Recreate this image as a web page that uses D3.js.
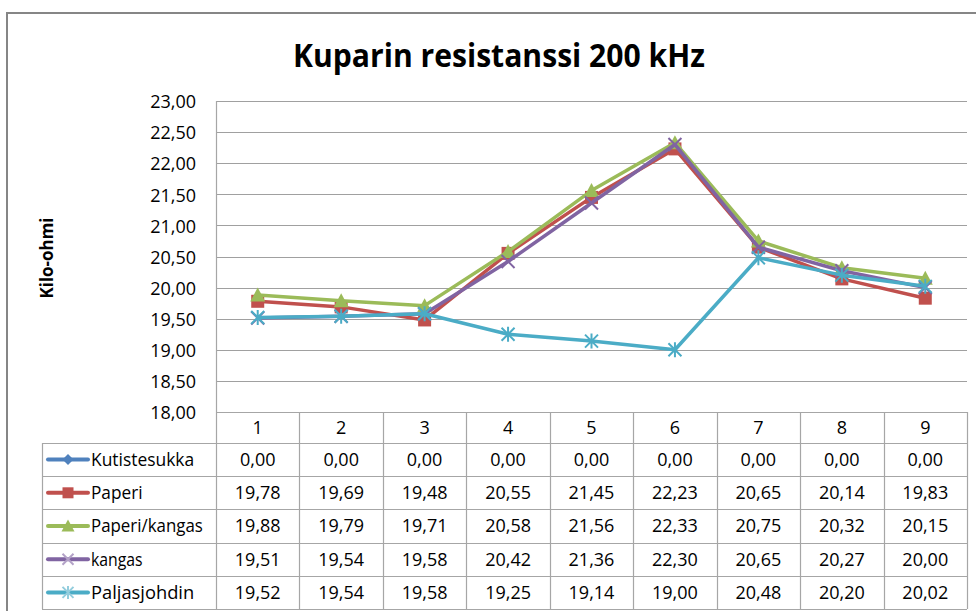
<!DOCTYPE html>
<html>
<head>
<meta charset="utf-8">
<script src="https://cdn.jsdelivr.net/npm/d3@7/dist/d3.min.js"></script>
<style>
  body { margin: 0; background: #fff; }
  svg { display: block; font-family: "Open Sans", sans-serif; }
</style>
</head>
<body>
<div id="viz"></div>
<script>
"use strict";

// --- data ---
var categories = [1, 2, 3, 4, 5, 6, 7, 8, 9];
var seriesNames = ["Kutistesukka", "Paperi", "Paperi/kangas", "kangas", "Paljasjohdin"];
var kutistesukka = [0, 0, 0, 0, 0, 0, 0, 0, 0];
var paperi = [19.78, 19.69, 19.48, 20.55, 21.45, 22.23, 20.65, 20.14, 19.83];
var paperiKangas = [19.88, 19.79, 19.71, 20.58, 21.56, 22.33, 20.75, 20.32, 20.15];
var kangas = [19.51, 19.54, 19.58, 20.42, 21.36, 22.30, 20.65, 20.27, 20.00];
var paljasjohdin = [19.52, 19.54, 19.58, 19.25, 19.14, 19.00, 20.48, 20.20, 20.02];
var yTicks = [18, 18.5, 19, 19.5, 20, 20.5, 21, 21.5, 22, 22.5, 23];

var colors = ["#4F81BD", "#C0504D", "#9BBB59", "#8064A2", "#4BACC6"],
	lightColors = ["#4F81BD", "#C0504D", "#9BBB59", "#B3A2C7", "#93CDDD"],
	markers = ["diamond", "square", "triangle", "x", "star"];

var series = [kutistesukka, paperi, paperiKangas, kangas, paljasjohdin].map(function(values, i) {
	return { name: seriesNames[i], values: values, color: colors[i], light: lightColors[i], marker: markers[i] }
})

var W = 976, H = 611,
	plotLeft = 216, plotRight = 967, plotTop = 101, plotBottom = 412,
	rowH = 33.2, headerH = 31, legendLeft = 42,
	gridColor = "#A0A0A0", tableColor = "#A6A6A6";

var fmt = d3.formatLocale({ decimal: ",", thousands: " ", grouping: [3], currency: ["", ""] }).format(".2f");

var x = d3.scaleBand().domain(categories).range([plotLeft, plotRight]).padding(0);
var y = d3.scaleLinear().domain([18, 23]).range([plotBottom, plotTop]);

var svg = d3.select("#viz").append("svg")
	.attr("width", W)
	.attr("height", H)

// chart border
svg.append("rect")
	.attr("x", 7).attr("y", 13)
	.attr("width", W + 20).attr("height", H + 20)
	.attr("fill", "none")
	.attr("stroke", "#868686")
	.attr("stroke-width", 2)

// title
svg.append("text")
	.attr("x", 499).attr("y", 67)
	.attr("text-anchor", "middle")
	.attr("font-size", "33px")
	.attr("font-weight", "bold")
	.attr("textLength", 412)
	.attr("lengthAdjust", "spacingAndGlyphs")
	.attr("fill", "#000")
	.text("Kuparin resistanssi 200 kHz")

// axis title
svg.append("text")
	.attr("transform", "translate(53,258) rotate(-90)")
	.attr("text-anchor", "middle")
	.attr("font-size", "17px")
	.attr("font-weight", "bold")
	.attr("textLength", 81)
	.attr("lengthAdjust", "spacingAndGlyphs")
	.text("Kilo-ohmi")

// gridlines
svg.append("g")
	.selectAll("line")
	.data(yTicks.slice(1))
	.enter()
	.append("line")
	.attr("x1", plotLeft).attr("x2", plotRight)
	.attr("y1", function(d) { return Math.round(y(d)) + 0.5 })
	.attr("y2", function(d) { return Math.round(y(d)) + 0.5 })
	.attr("stroke", gridColor)
	.attr("stroke-width", 1.2)

// y axis labels
var yAxis = svg.append("g")
	.attr("transform", "translate(" + plotLeft + ",1)")
	.call(d3.axisLeft(y).tickValues(yTicks).tickSize(0).tickPadding(20).tickFormat(fmt))
yAxis.select(".domain").remove()
yAxis.selectAll("text")
	.attr("font-family", "Open Sans, sans-serif")
	.attr("font-size", "18px")
	.attr("fill", "#000")

// data table
var table = svg.append("g").attr("stroke", tableColor).attr("stroke-width", 1.2)
var rowTops = [plotBottom, plotBottom + headerH];
for (var r = 1; r <= series.length; r++) rowTops.push(plotBottom + headerH + r * rowH)

// horizontal table lines (the first one only spans the categories)
table.selectAll("line.h")
	.data(rowTops)
	.enter()
	.append("line")
	.attr("class", "h")
	.attr("x1", function(d, i) { return i < 1 ? plotLeft : legendLeft })
	.attr("x2", plotRight)
	.attr("y1", function(d) { return Math.round(d) + 0.5 })
	.attr("y2", function(d) { return Math.round(d) + 0.5 })

// vertical lines: category boundaries
var bounds = categories.map(function(c) { return x(c) }).concat([plotRight]);
table.selectAll("line.v")
	.data(bounds)
	.enter()
	.append("line")
	.attr("class", "v")
	.attr("x1", function(d) { return Math.round(d) + 0.5 })
	.attr("x2", function(d) { return Math.round(d) + 0.5 })
	.attr("y1", function(d, i) { return i === 0 ? plotTop : plotBottom })
	.attr("y2", rowTops[rowTops.length - 1])
table.append("line")
	.attr("x1", legendLeft + 0.5).attr("x2", legendLeft + 0.5)
	.attr("y1", rowTops[1]).attr("y2", rowTops[rowTops.length - 1])

// header labels
svg.append("g")
	.selectAll("text")
	.data(categories)
	.enter()
	.append("text")
	.attr("x", function(d) { return x(d) + x.bandwidth() / 2 })
	.attr("y", plotBottom + headerH / 2)
	.attr("dy", "0.36em")
	.attr("text-anchor", "middle")
	.attr("font-size", "18px")
	.text(function(d) { return d })

// table rows
var rows = svg.append("g")
	.selectAll("g")
	.data(series)
	.enter()
	.append("g")
	.attr("transform", function(d, i) { return "translate(0," + (rowTops[i + 1] + rowH / 2) + ")" })

rows.selectAll("text.val")
	.data(function(d) { return d.values })
	.enter()
	.append("text")
	.attr("class", "val")
	.attr("x", function(d, i) { return x(categories[i]) + x.bandwidth() / 2 })
	.attr("dy", "0.36em")
	.attr("text-anchor", "middle")
	.attr("font-size", "18px")
	.text(function(d) { return fmt(d) })

rows.append("text")
	.attr("x", 91)
	.attr("dy", "0.36em")
	.attr("font-size", "18px")
	.attr("textLength", function(d) { return d.name.length * 8.6 })
	.attr("lengthAdjust", "spacingAndGlyphs")
	.text(function(d) { return d.name })

rows.append("line")
	.attr("x1", 48).attr("x2", 88)
	.attr("stroke", function(d) { return d.color })
	.attr("stroke-width", 4)
	.attr("stroke-linecap", "round")

// marker drawing
var drawMarker = function(sel, kind, fill, size) {
	var s = size / 2
	if (kind === "diamond") {
		sel.append("path").attr("d", "M0," + (-s) + "L" + s + ",0L0," + s + "L" + (-s) + ",0Z").attr("fill", fill)
	} else if (kind === "square") {
		sel.append("rect").attr("x", -s).attr("y", -s).attr("width", size).attr("height", size).attr("fill", fill)
	} else if (kind === "triangle") {
		sel.append("path").attr("d", "M0," + (-s - 1) + "L" + (s + 1) + "," + s + "L" + (-s - 1) + "," + s + "Z").attr("fill", fill)
	} else if (kind === "x") {
		sel.append("path").attr("d", "M" + (-s) + "," + (-s) + "L" + s + "," + s + "M" + s + "," + (-s) + "L" + (-s) + "," + s)
			.attr("stroke", fill).attr("stroke-width", 2).attr("fill", "none")
	} else if (kind === "star") {
		sel.append("path").attr("d", "M" + (-s) + "," + (-s) + "L" + s + "," + s + "M" + s + "," + (-s) + "L" + (-s) + "," + s + "M0," + (-s - 1) + "L0," + (s + 1))
			.attr("stroke", fill).attr("stroke-width", 2).attr("fill", "none")
	}
}

rows.each(function(d) {
	var g = d3.select(this).append("g").attr("transform", "translate(68,0)")
	drawMarker(g, d.marker, d.light, 11)
})

// plot lines, clipped to the plot area like the original
svg.append("clipPath").attr("id", "plot-clip")
	.append("rect")
	.attr("x", plotLeft).attr("y", plotTop - 12)
	.attr("width", plotRight - plotLeft + 10).attr("height", plotBottom - plotTop + 12)

var line = d3.line()
	.x(function(d, i) { return x(categories[i]) + x.bandwidth() / 2 })
	.y(function(d) { return y(d) })

var plot = svg.append("g").attr("clip-path", "url(#plot-clip)")

var seriesG = plot.selectAll("g.series")
	.data(series)
	.enter()
	.append("g")
	.attr("class", "series")

seriesG.append("path")
	.attr("d", function(d) { return line(d.values) })
	.attr("fill", "none")
	.attr("stroke", function(d) { return d.color })
	.attr("stroke-width", 3.5)
	.attr("stroke-linejoin", "round")

seriesG.each(function(d) {
	var g = d3.select(this)
	d.values.forEach(function(v, i) {
		var m = g.append("g")
			.attr("transform", "translate(" + (x(categories[i]) + x.bandwidth() / 2) + "," + y(v) + ")")
		drawMarker(m, d.marker, d.color, 13)
	})
})
</script>
</body>
</html>
